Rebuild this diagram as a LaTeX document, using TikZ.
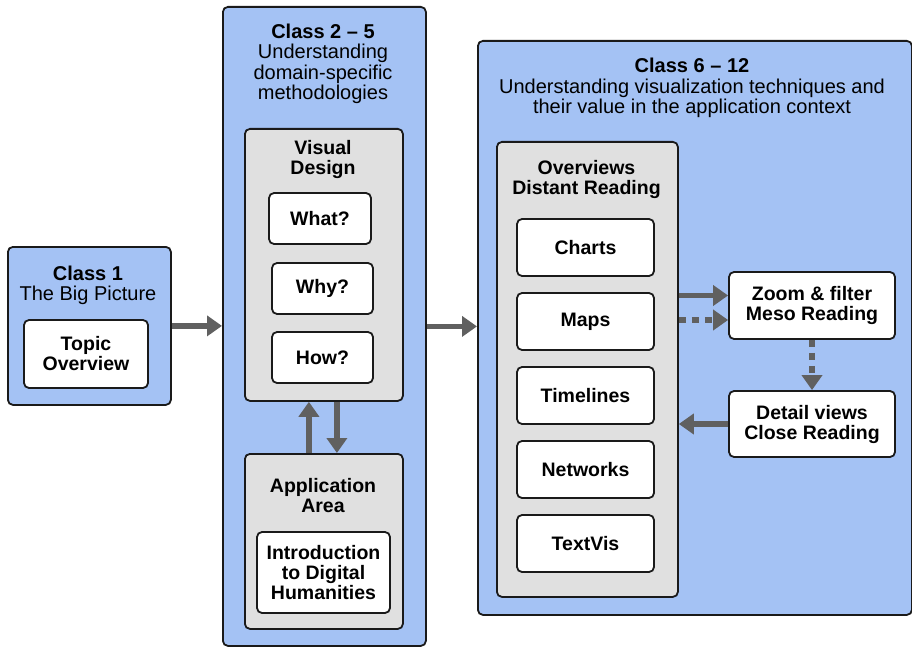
\documentclass[tikz,border=0pt]{standalone}
\usepackage{fontspec}
\setmainfont{Liberation Sans}
\usetikzlibrary{arrows.meta}
\definecolor{bluefill}{HTML}{A4C2F4}
\definecolor{grayfill}{HTML}{E0E0E0}
\definecolor{arrowgray}{HTML}{606060}
\definecolor{edgecol}{HTML}{1A1A1A}
\begin{document}
\begin{tikzpicture}[x=1pt,y=-1pt,
 box/.style={draw=edgecol, line width=1.8pt, rounded corners=5pt, inner sep=0pt, anchor=north west},
 bluebox/.style={box, fill=bluefill},
 graybox/.style={box, fill=grayfill},
 whitebox/.style={box, fill=white, anchor=center, align=center, font=\bfseries\fontsize{19.5}{20}\selectfont},
 title/.style={align=center, font=\fontsize{20}{20.5}\selectfont, inner sep=0pt},
 btitle/.style={title, font=\bfseries\fontsize{19.5}{20}\selectfont},
 flow/.style={draw=arrowgray, line width=5.5pt, -{Triangle[length=15pt,width=20pt]}},
 dotflow/.style={flow, dash pattern=on 7pt off 6pt},
]
\useasboundingbox (0,0) rectangle (912,647);
% containers
\node[bluebox, minimum width=163, minimum height=158] (c1) at (7,246) {};
\node[bluebox, minimum width=203, minimum height=639] (c2) at (222,6) {};
\node[bluebox, minimum width=434, minimum height=574] (c6) at (477,40) {};
\node[graybox, minimum width=158, minimum height=272] (vd) at (244,128) {};
\node[graybox, minimum width=158, minimum height=175] (app) at (244,453) {};
\node[graybox, minimum width=181, minimum height=455] (ov) at (496,141) {};
% titles
\node[title] (t1) at (88,285.5) {{\bfseries Class 1}\\The Big Picture};
\node[title] (t2) at (323,64) {{\bfseries Class 2 -- 5}\\Understanding\\domain-specific\\methodologies};
\node[title] (t6) at (692,88) {{\bfseries Class 6 -- 12}\\Understanding visualization techniques and\\their value in the application context};
\node[btitle] (tvd) at (323,159.5) {Visual\\Design};
\node[btitle] (tapp) at (323,496) {Application\\Area};
\node[btitle] (tov) at (586.5,179.5) {Overviews\\Distant Reading};
% white boxes
\node[whitebox, minimum width=124, minimum height=68] (topic) at (86,354) {Topic\\Overview};
\node[whitebox, minimum width=102, minimum height=51] (what) at (320,218.5) {What?};
\node[whitebox, minimum width=101, minimum height=51] (why) at (322.5,288.5) {Why?};
\node[whitebox, minimum width=101, minimum height=51] (how) at (322.5,357.5) {How?};
\node[whitebox, minimum width=133, minimum height=81] (intro) at (323.5,572.5) {Introduction\\to Digital\\Humanities};
\node[whitebox, minimum width=137, minimum height=57] (charts) at (585.5,247.5) {Charts};
\node[whitebox, minimum width=137, minimum height=57] (maps) at (585.5,321.5) {Maps};
\node[whitebox, minimum width=137, minimum height=57] (timelines) at (585.5,395.5) {Timelines};
\node[whitebox, minimum width=137, minimum height=57] (networks) at (585.5,469.5) {Networks};
\node[whitebox, minimum width=137, minimum height=57] (textvis) at (585.5,543.5) {TextVis};
\node[whitebox, minimum width=166, minimum height=67] (zoom) at (812,305.5) {Zoom \& filter\\Meso Reading};
\node[whitebox, minimum width=166, minimum height=66] (detail) at (812,424) {Detail views\\Close Reading};
% connectors
\draw[flow] (c1.east) -- (c1.east -| c2.west);
\draw[flow] (c2.east) -- (c2.east -| c6.west);
\coordinate (upA) at ([xshift=-15pt]app.north);
\coordinate (dnA) at ([xshift=13pt]vd.south);
\draw[flow] (upA) -- (upA |- vd.south);
\draw[flow] (dnA) -- (dnA |- app.north);
\coordinate (z1) at ([yshift=10pt]zoom.west);
\coordinate (z2) at ([yshift=-14.5pt]zoom.west);
\draw[flow] (z1 -| ov.east) -- (z1);
\draw[dotflow] (z2 -| ov.east) -- (z2);
\draw[dotflow] (zoom.south) -- (detail.north);
\draw[flow] (detail.west) -- (detail.west -| ov.east);
\end{tikzpicture}
\end{document}
